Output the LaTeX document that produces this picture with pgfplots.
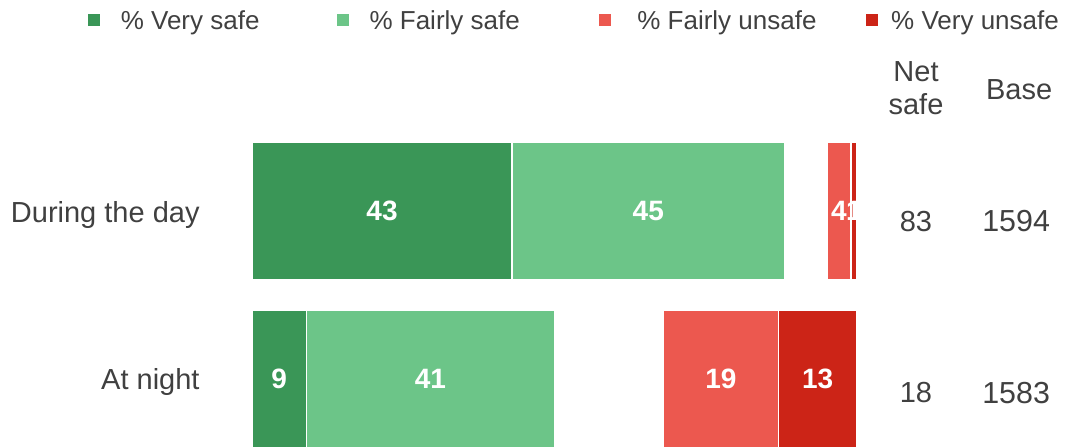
\documentclass[border=0pt]{standalone}
\usepackage{pgfplots}
\pgfplotsset{compat=1.18}
\usepackage{fontspec}
\setmainfont{Liberation Sans}
\definecolor{vsafe}{HTML}{3A9657}
\definecolor{fsafe}{HTML}{6CC588}
\definecolor{funsafe}{HTML}{EC584F}
\definecolor{vunsafe}{HTML}{CC2417}
\definecolor{txt}{HTML}{404040}
\pgfplotsset{
  base/.style={
    scale only axis, width=534.5pt, height=223pt,
    xmin=-41.65, xmax=135.04,
    ymin=-1.256, ymax=1.399, y dir=reverse,
    hide axis,
  }
}
\begin{document}
\begin{tikzpicture}
\begin{axis}[base,
  xbar stacked, bar width=69pt,
  legend columns=4,
  legend image code/.code={\fill[#1,draw=none] (0pt,-3pt) rectangle (6pt,3pt); \path (16pt,0pt);},
  legend style={draw=none, fill=none, inner sep=0pt, outer sep=0pt,
    nodes={inner sep=0pt, outer sep=0pt, text depth=0pt},
    column sep=0pt, row sep=0pt,
    at={(0.0823,0.955)}, anchor=west,
    font=\fontsize{13}{15}\selectfont, text=txt, cells={anchor=west}},
]
\addplot[fill=vsafe, draw=white, line width=0.8pt] coordinates {(43,0) (9,1)};
\addlegendentry{\makebox[108pt][l]{\% Very safe}}
\addplot[fill=fsafe, draw=white, line width=0.8pt] coordinates {(45,0) (41,1)};
\addlegendentry{\makebox[114.5pt][l]{\% Fairly safe}}
\addplot[fill=none, draw=none, forget plot] coordinates {(7,0) (18,1)};
\addplot[fill=funsafe, draw=white, line width=0.8pt] coordinates {(4,0) (19,1)};
\addlegendentry{\makebox[117.5pt][l]{\hspace{3pt}\% Fairly unsafe}}
\addplot[fill=vunsafe, draw=white, line width=0.8pt] coordinates {(1,0) (13,1)};
\addlegendentry{\hspace{-4pt}\% Very unsafe}
\end{axis}
\begin{axis}[base, clip=false]
\addplot[draw=none, mark=none, nodes near coords, point meta=explicit symbolic,
  every node near coord/.style={anchor=center, text=white, font=\fontsize{14}{16}\bfseries}]
  table[meta=l] {
x y l
21.5 0 43
65.5 0 45
97.0 0 4
99.5 0 1
4.5 1 9
29.5 1 41
77.5 1 19
93.5 1 13
};
\begin{scope}[every node/.style={text=txt, font=\fontsize{14.5}{16.5}\selectfont, inner sep=0pt}]
\node[anchor=east] at (axis cs:-8.6,0.024) {During the day};
\node[anchor=east] at (axis cs:-8.6,1.018) {At night};
\node[align=center] at (axis cs:109.75,-0.732) {Net\\safe};
\node at (axis cs:126.8,-0.720) {Base};
\node at (axis cs:109.75,0.06) {83};
\node[font=\fontsize{15.2}{17}\selectfont] at (axis cs:126.3,0.06) {1594};
\node at (axis cs:109.75,1.083) {18};
\node[font=\fontsize{15.2}{17}\selectfont] at (axis cs:126.3,1.083) {1583};
\end{scope}
\end{axis}
\pgfresetboundingbox
\path (0,0) rectangle (534.5pt,223pt);
\end{tikzpicture}
\end{document}
